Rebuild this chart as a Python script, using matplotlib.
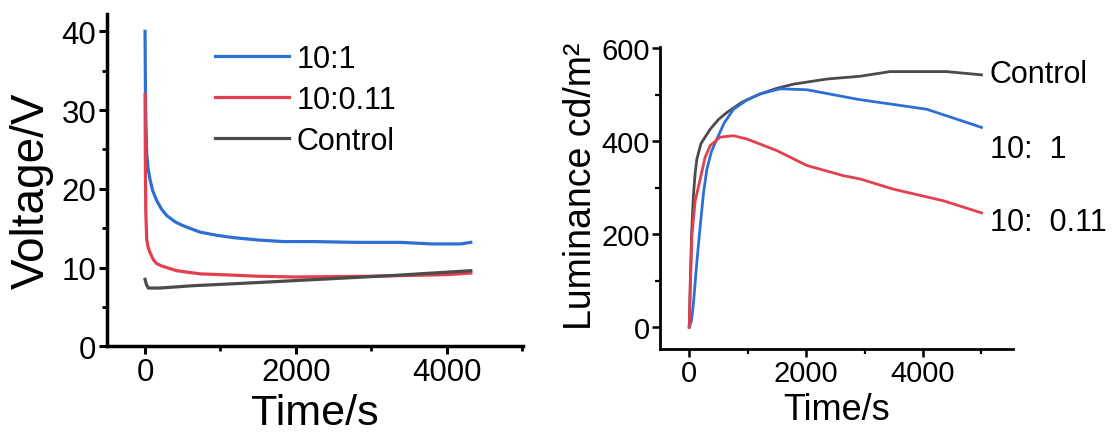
import matplotlib
matplotlib.use("Agg")
import matplotlib.pyplot as plt
from matplotlib.ticker import MultipleLocator

plt.rcParams['font.family'] = ['Liberation Sans', 'DejaVu Sans']

# ---- Left panel: Voltage vs time ----
v_labels = ["10:1", "10:0.11", "Control"]
v_colors = ["#2e6fd6", "#e2404e", "#4b4b4b"]

t_blue = [0, 5, 10, 22, 40, 66, 100, 155, 220, 288, 400, 508, 729, 950, 1171, 1500, 1834, 2228, 2800, 3382, 3800, 4178, 4320]
v_blue = [40, 33, 29, 24.6, 22.6, 21.2, 19.8, 18.5, 17.4, 16.6, 15.8, 15.3, 14.5, 14.1, 13.8, 13.5, 13.3, 13.3, 13.2, 13.2, 13.0, 13.0, 13.2]

t_red = [0, 5, 10, 22, 40, 66, 110, 155, 220, 288, 420, 729, 1000, 1500, 2000, 3000, 4000, 4320]
v_red = [32, 22, 17, 13.6, 12.6, 11.9, 11.0, 10.5, 10.2, 10.0, 9.6, 9.2, 9.1, 8.9, 8.8, 8.9, 9.1, 9.3]

t_ctrl = [0, 20, 44, 200, 640, 1084, 1500, 2300, 3300, 4320]
v_ctrl = [8.5, 7.8, 7.4, 7.4, 7.7, 7.9, 8.1, 8.5, 9.0, 9.6]

# ---- Right panel: Luminance vs time ----
lt_ctrl = [0, 20, 40, 70, 100, 131, 200, 359, 500, 644, 900, 1214, 1500, 1783, 2353, 2923, 3436, 4405, 5000]
l_ctrl = [0, 110, 200, 280, 330, 362, 395, 426, 447, 462, 484, 502, 514, 523, 534, 540, 550, 550, 543]

lt_blue = [0, 40, 74, 130, 188, 245, 302, 380, 473, 600, 758, 1000, 1214, 1556, 2012, 2900, 4063, 5000]
l_blue = [0, 15, 54, 140, 218, 290, 340, 378, 405, 440, 469, 490, 502, 513, 511, 490, 469, 430]

lt_red = [0, 20, 46, 100, 188, 270, 359, 530, 758, 986, 1499, 2012, 2638, 2923, 3493, 4348, 5000]
l_red = [0, 90, 197, 270, 319, 365, 391, 409, 412, 405, 380, 348, 326, 319, 297, 272, 246]

r_labels = ["Control", "10:  1", "10:  0.11"]
r_label_y = [545, 383, 226]

fig = plt.figure(figsize=(11.13, 4.35), dpi=100)

# ---- Left ----
ax1 = fig.add_axes([0.0959, 0.2016, 0.3743, 0.7639])
ax1.plot(t_blue, v_blue, color=v_colors[0], lw=2.3, label=v_labels[0])
ax1.plot(t_red, v_red, color=v_colors[1], lw=2.3, label=v_labels[1])
ax1.plot(t_ctrl, v_ctrl, color=v_colors[2], lw=2.3, label=v_labels[2])
ax1.set_xlim(-508, 5017)
ax1.set_ylim(0, 42.2)
ax1.set_xticks([0, 2000, 4000])
ax1.set_yticks([0, 10, 20, 30, 40])
ax1.xaxis.set_minor_locator(MultipleLocator(1000))
ax1.yaxis.set_minor_locator(MultipleLocator(5))
ax1.set_xlabel("Time/s", fontsize=31, labelpad=4.5)
ax1.set_ylabel("Voltage/V", fontsize=33)
ax1.yaxis.set_label_coords(-0.127, 0.47)
for s in ["top", "right"]:
    ax1.spines[s].set_visible(False)
for s in ["left", "bottom"]:
    ax1.spines[s].set_linewidth(2.5)
ax1.tick_params(which="major", direction="out", length=6, width=2.2, labelsize=22.5, pad=1.5)
ax1.tick_params(which="minor", direction="out", length=3.5, width=2.0)
ax1.legend(loc="upper left", bbox_to_anchor=(0.26, 0.911), frameon=False, fontsize=22,
           handlelength=2.42, handletextpad=0.26, labelspacing=0.36, borderpad=0, borderaxespad=0)

# ---- Right ----
ax2 = fig.add_axes([0.5930, 0.1954, 0.3172, 0.6943])
ax2.plot(lt_ctrl, l_ctrl, color=v_colors[2], lw=2.0)
ax2.plot(lt_blue, l_blue, color=v_colors[0], lw=2.0)
ax2.plot(lt_red, l_red, color=v_colors[1], lw=2.0)
ax2.set_xlim(-500, 5540)
ax2.set_ylim(-47, 603)
ax2.set_xticks([0, 2000, 4000])
ax2.set_yticks([0, 200, 400, 600])
ax2.xaxis.set_minor_locator(MultipleLocator(1000))
ax2.yaxis.set_minor_locator(MultipleLocator(100))
ax2.set_xlabel("Time/s", fontsize=26, labelpad=3)
ax2.set_ylabel("Luminance cd/m²", fontsize=27)
ax2.yaxis.set_label_coords(-0.172, 0.543)
for s in ["top", "right"]:
    ax2.spines[s].set_visible(False)
for s in ["left", "bottom"]:
    ax2.spines[s].set_linewidth(2.0)
ax2.tick_params(which="major", direction="out", length=6, width=1.8, labelsize=21, pad=1.5)
ax2.tick_params(which="minor", direction="out", length=3.5, width=1.6)
for lab, yv in zip(r_labels, r_label_y):
    ax2.text(5145, yv, lab, fontsize=22, ha="left", va="center", clip_on=False)

fig.savefig("out.png", dpi=100)
